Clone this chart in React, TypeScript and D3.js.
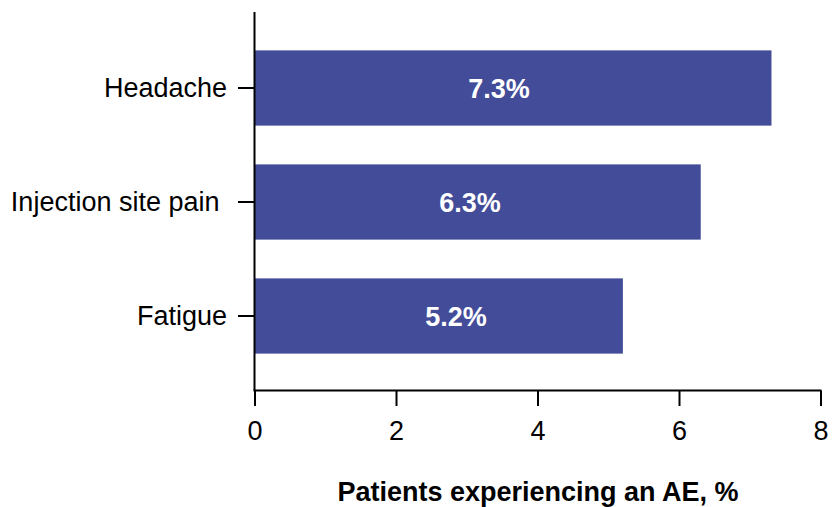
import React from "react";
import * as d3 from "d3";

const categories = ["Headache", "Injection site pain ", "Fatigue"];
const values = [7.3, 6.3, 5.2];
const valueLabels = ["7.3%", "6.3%", "5.2%"];
const labelAnchors = [3.45, 3.04, 2.84];
const xTicks = [0, 2, 4, 6, 8];
const xTitle = "Patients experiencing an AE, %";

export default function App() {
  const W = 835, H = 507;
  const x = d3.scaleLinear().domain([0, 8]).range([255, 821]);
  const y = d3.scaleBand<string>().domain(categories).range([31, 373]).paddingInner(0.34).paddingOuter(0.17);
  const font = "Liberation Sans, Arial, sans-serif";
  const fs = 27;
  const axisY = 390.5;
  return (
    <svg width={W} height={H} style={{ position: "absolute", left: 0, top: 0 }}>
      <rect width={W} height={H} fill="#fff" />
      {categories.map((c, i) => (
        <rect key={c} x={x(0)} y={y(c)!} width={x(values[i]) - x(0)} height={y.bandwidth()} fill="#434C99" />
      ))}
      {categories.map((c, i) => (
        <text key={"l" + c} x={x(labelAnchors[i])} y={y(c)! + y.bandwidth() / 2} dy="0.36em" textAnchor="middle"
          fill="#fff" fontWeight="bold" fontSize={fs} fontFamily={font}>{valueLabels[i]}</text>
      ))}
      <line x1={254.5} x2={254.5} y1={12} y2={axisY} stroke="#000" strokeWidth={2} />
      <line x1={253.5} x2={821.5} y1={axisY} y2={axisY} stroke="#000" strokeWidth={2} />
      {categories.map((c) => {
        const cy = y(c)! + y.bandwidth() / 2;
        return (
          <g key={"t" + c}>
            <line x1={238} x2={254} y1={cy} y2={cy} stroke="#000" strokeWidth={2} />
            <text x={227} y={cy} dy="0.35em" textAnchor="end" fontSize={fs} fontFamily={font} fill="#000"
              style={{ whiteSpace: "pre" }}>{c}</text>
          </g>
        );
      })}
      {xTicks.map((t) => (
        <g key={"x" + t}>
          <line x1={x(t)} x2={x(t)} y1={axisY} y2={406} stroke="#000" strokeWidth={2} />
          <text x={x(t)} y={431} dy="0.35em" textAnchor="middle" fontSize={fs} fontFamily={font} fill="#000">{t}</text>
        </g>
      ))}
      <text x={538} y={492} dy="0.35em" textAnchor="middle" fontSize={fs} fontWeight="bold" fontFamily={font} fill="#000">{xTitle}</text>
    </svg>
  );
}
